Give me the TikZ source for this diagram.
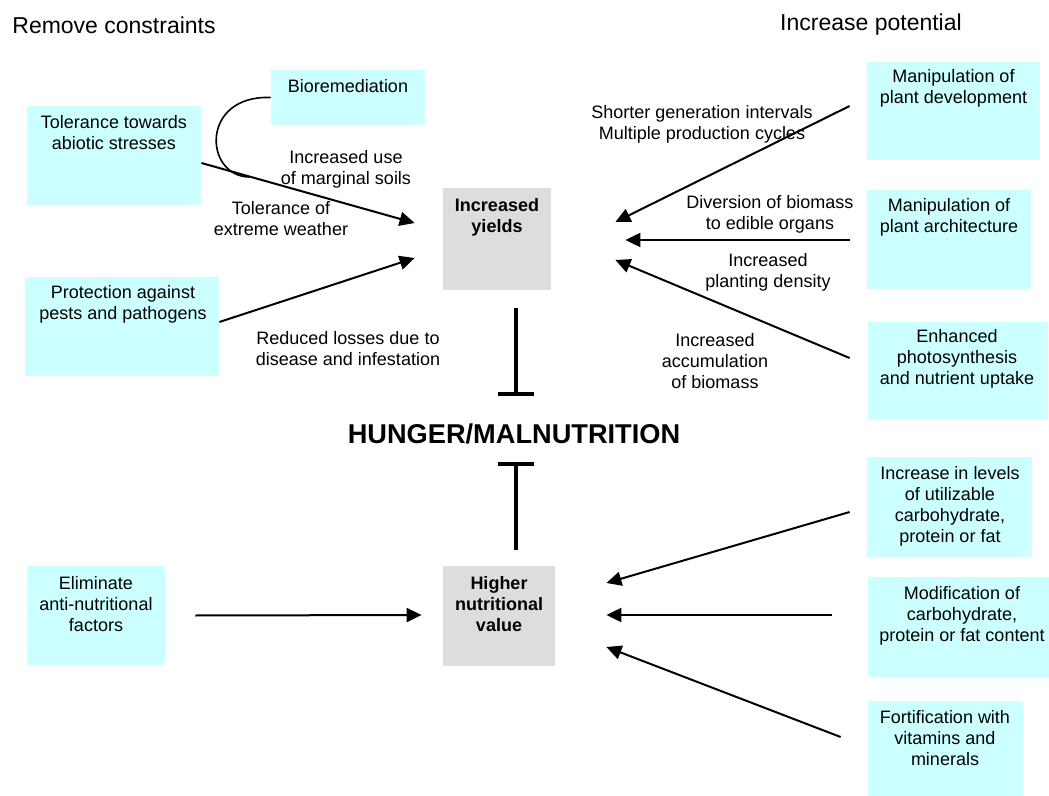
\documentclass[tikz,border=0pt]{standalone}
\usepackage{fontspec}
\setmainfont{Liberation Sans}
\usetikzlibrary{arrows.meta,calc}
\definecolor{boxcyan}{HTML}{CCFFFF}
\definecolor{boxgrey}{HTML}{DDDDDD}
\tikzset{
  cbox/.style={fill=boxcyan, draw=none, inner sep=0pt},
  gbox/.style={fill=boxgrey, draw=none, inner sep=0pt},
  txt/.style={align=center, font=\fontsize{9}{10.5}\selectfont, inner sep=0pt},
  btxt/.style={txt, font=\fontsize{9}{10.5}\selectfont\bfseries},
  arr/.style={line width=1pt, -{Triangle[length=7.5pt,width=7pt]}},
  blk/.style={line width=2pt, -{Bar[width=18pt]}}
}
\begin{document}
\begin{tikzpicture}[x=0.5pt,y=-0.5pt]
	\useasboundingbox (0,0) rectangle (1049,796);
	% boxes
	\node[cbox, minimum width=77pt, minimum height=27.5pt] (bio) at (348,97.5) {};
	\node[cbox, minimum width=87pt, minimum height=49.5pt] (tol) at (114,155.5) {};
	\node[cbox, minimum width=97pt, minimum height=49.5pt] (prot) at (122,326.5) {};
	\node[cbox, minimum width=69pt, minimum height=49.5pt] (elim) at (96,615.5) {};
	\node[cbox, minimum width=86.5pt, minimum height=49pt] (mdev) at (953.5,111) {};
	\node[cbox, minimum width=82pt, minimum height=49.5pt] (march) at (949,239.5) {};
	\node[cbox, minimum width=90pt, minimum height=49pt] (enh) at (958,371) {};
	\node[cbox, minimum width=82.5pt, minimum height=50pt] (inc) at (949.5,507) {};
	\node[cbox, minimum width=90.5pt, minimum height=50pt] (mod) at (958.5,627) {};
	\node[cbox, minimum width=77.5pt, minimum height=47.5pt] (fort) at (945.5,748.5) {};
	\node[gbox, minimum width=54pt, minimum height=51pt] (yields) at (497,239) {};
	\node[gbox, minimum width=56pt, minimum height=50pt] (higher) at (499,616) {};
	% box texts
	\node[txt] (bio-t) at (348,86) {Bioremediation};
	\node[txt] (tol-t) at (114,133) {Tolerance towards\\abiotic stresses};
	\node[txt] (prot-t) at (123,304) {Protection against\\pests and pathogens};
	\node[txt] (elim-t) at (96,604) {Eliminate\\anti-nutritional\\factors};
	\node[txt] (mdev-t) at (953.5,88) {Manipulation of\\plant development};
	\node[txt] (march-t) at (949,217) {Manipulation of\\plant architecture};
	\node[txt] (enh-t) at (957,359) {Enhanced\\photosynthesis\\and nutrient uptake};
	\node[txt] (inc-t) at (950,506) {Increase in levels\\of utilizable\\carbohydrate,\\protein or fat};
	\node[txt] (mod-t) at (962,616) {Modification of\\carbohydrate,\\protein or fat content};
	\node[txt] (fort-t) at (945,738) {Fortification with\\vitamins and\\minerals};
	\node[btxt] (yields-t) at (497,217) {Increased\\yields};
	\node[btxt] (higher-t) at (499,604) {Higher\\nutritional\\value};
	% headings
	\node[anchor=west, inner sep=0pt, font=\fontsize{11.5}{13}\selectfont] (left-h) at (12,25) {Remove constraints};
	\node[inner sep=0pt, font=\fontsize{11.5}{13}\selectfont] (right-h) at (871,25) {Increase potential};
	\node[inner sep=0pt, font=\fontsize{13.6}{16}\selectfont\bfseries] (hunger) at (514,434) {HUNGER/MALNUTRITION};
	% arrow labels
	\node[txt] (l-soil) at (346,169) {Increased use\\of marginal soils};
	\node[txt] (l-weather) at (281,219) {Tolerance of\\extreme weather};
	\node[txt] (l-loss) at (348,349) {Reduced losses due to\\disease and infestation};
	\node[txt] (l-gen) at (702,124) {Shorter generation intervals\\Multiple production cycles};
	\node[txt] (l-div) at (770,214) {Diversion of biomass\\to edible organs};
	\node[txt] (l-dens) at (768,272) {Increased\\planting density};
	\node[txt] (l-acc) at (715,361) {Increased\\accumulation\\of biomass};
	% connectors
	\draw[arr] ($(tol.east)+(0,7.5)$) -- ($(yields.west)+(-28,-16)$);
	\draw[line width=0.8pt] (bio.west) .. controls (200,95) and (204,176) .. (249,177);
	\draw[arr] ($(prot.east)+(0,-4.5)$) -- ($(yields.west)+(-28,19)$);
	\draw[arr] ($(mdev.west)+(-17,-5)$) -- ($(yields.east)+(64,-17)$);
	\draw[arr] ($(march.west)+(-17,0.5)$) -- ($(yields.east)+(74,1)$);
	\draw[arr] ($(enh.west)+(-18,-13)$) -- ($(yields.east)+(64,21)$);
	\draw[arr] ($(elim.east)+(30,0)$) -- ($(higher.west)+(-21,-1)$);
	\draw[arr] ($(inc.west)+(-17,5)$) -- ($(higher.east)+(51,-33)$);
	\draw[arr] ($(mod.west)+(-36,-12)$) -- ($(higher.east)+(51,-1)$);
	\draw[arr] ($(fort.west)+(-27,-11.5)$) -- ($(higher.east)+(51,31)$);
	\draw[blk] ($(yields.south)+(19,18)$) -- ($(hunger)+(2,-38)$);
	\draw[blk] ($(higher.north)+(17,-16)$) -- ($(hunger)+(2,28)$);
\end{tikzpicture}
\end{document}
